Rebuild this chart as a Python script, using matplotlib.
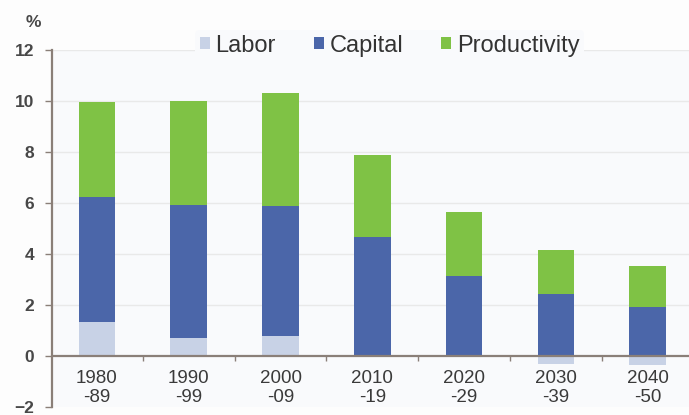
import numpy as np
import matplotlib
matplotlib.use("Agg")
import matplotlib.pyplot as plt

plt.rcParams['font.family'] = ['Liberation Sans', 'DejaVu Sans']

# decades and contributions (percentage points)
periods = ["1980\n-89", "1990\n-99", "2000\n-09", "2010\n-19", "2020\n-29", "2030\n-39", "2040\n-50"]
labor = [1.35, 0.70, 0.78, 0.0, 0.0, -0.30, -0.35]
capital = [4.89, 5.24, 5.12, 4.65, 3.15, 2.44, 1.93]
productivity = [3.72, 4.06, 4.40, 3.22, 2.48, 1.73, 1.61]
yticks = [-2, 0, 2, 4, 6, 8, 10, 12]

c_lab = '#c8d2e6'
c_cap = '#4b66a9'
c_pro = '#7fc245'
axis_col = '#8a7f78'
txt_col = '#3a3a3a'
bg = '#f9fafc'

fig = plt.figure(figsize=(6.89, 4.15), dpi=100, facecolor='#fdfdfd')
ax = fig.add_axes([0.0755, 0.0193, 0.9245, 0.8602])
ax.set_facecolor(bg)

x = np.arange(len(periods))
lab = np.array(labor)
cap = np.array(capital)
pro = np.array(productivity)
base = np.clip(lab, 0, None)

w = 0.40
ax.bar(x, lab, w, color=c_lab, label='Labor', zorder=3)
ax.bar(x, cap, w, bottom=base, color=c_cap, label='Capital', zorder=3)
ax.bar(x, pro, w, bottom=base + cap, color=c_pro, label='Productivity', zorder=3)

ax.set_xlim(-0.49, len(periods) - 0.55)
ax.set_ylim(-2, 12)

# grid
for v in yticks:
    if v > 0:
        ax.axhline(v, color='#e9e9e9', lw=1.0, zorder=1)

# zero line with small ticks between categories
ax.axhline(0, color=axis_col, lw=1.6, zorder=4)
mids = x[:-1] + 0.5
ax.vlines(mids, -0.18, 0, color=axis_col, lw=1.0, zorder=4)

for s in ['top', 'right', 'bottom']:
    ax.spines[s].set_visible(False)
ax.spines['left'].set_color(axis_col)
ax.spines['left'].set_linewidth(1.6)

ax.set_xticks([])
ax.set_yticks(yticks)
ax.tick_params(axis='y', direction='out', length=5, width=1.0, color=axis_col,
               labelsize=12.5, labelcolor='#484848', pad=8)
for t in ax.get_yticklabels():
    t.set_fontweight('bold')

for i, lbl in enumerate(periods):
    ax.text(i, -0.55, lbl, ha='center', va='top', fontsize=13.5, color=txt_col,
            linespacing=1.15)

fig.text(0.048, 0.945, '%', ha='center', va='center', fontsize=12.5,
         fontweight='bold', color='#484848')

leg = ax.legend(loc='center', bbox_to_anchor=(0.53, 1.012), ncol=3, fontsize=17,
                frameon=True, facecolor=bg, edgecolor='none', framealpha=1,
                handlelength=0.42, handleheight=0.42, handletextpad=0.25,
                columnspacing=1.6, borderpad=0.2)
for t in leg.get_texts():
    t.set_color('#333333')

fig.savefig('out.png', dpi=100, facecolor=fig.get_facecolor())
